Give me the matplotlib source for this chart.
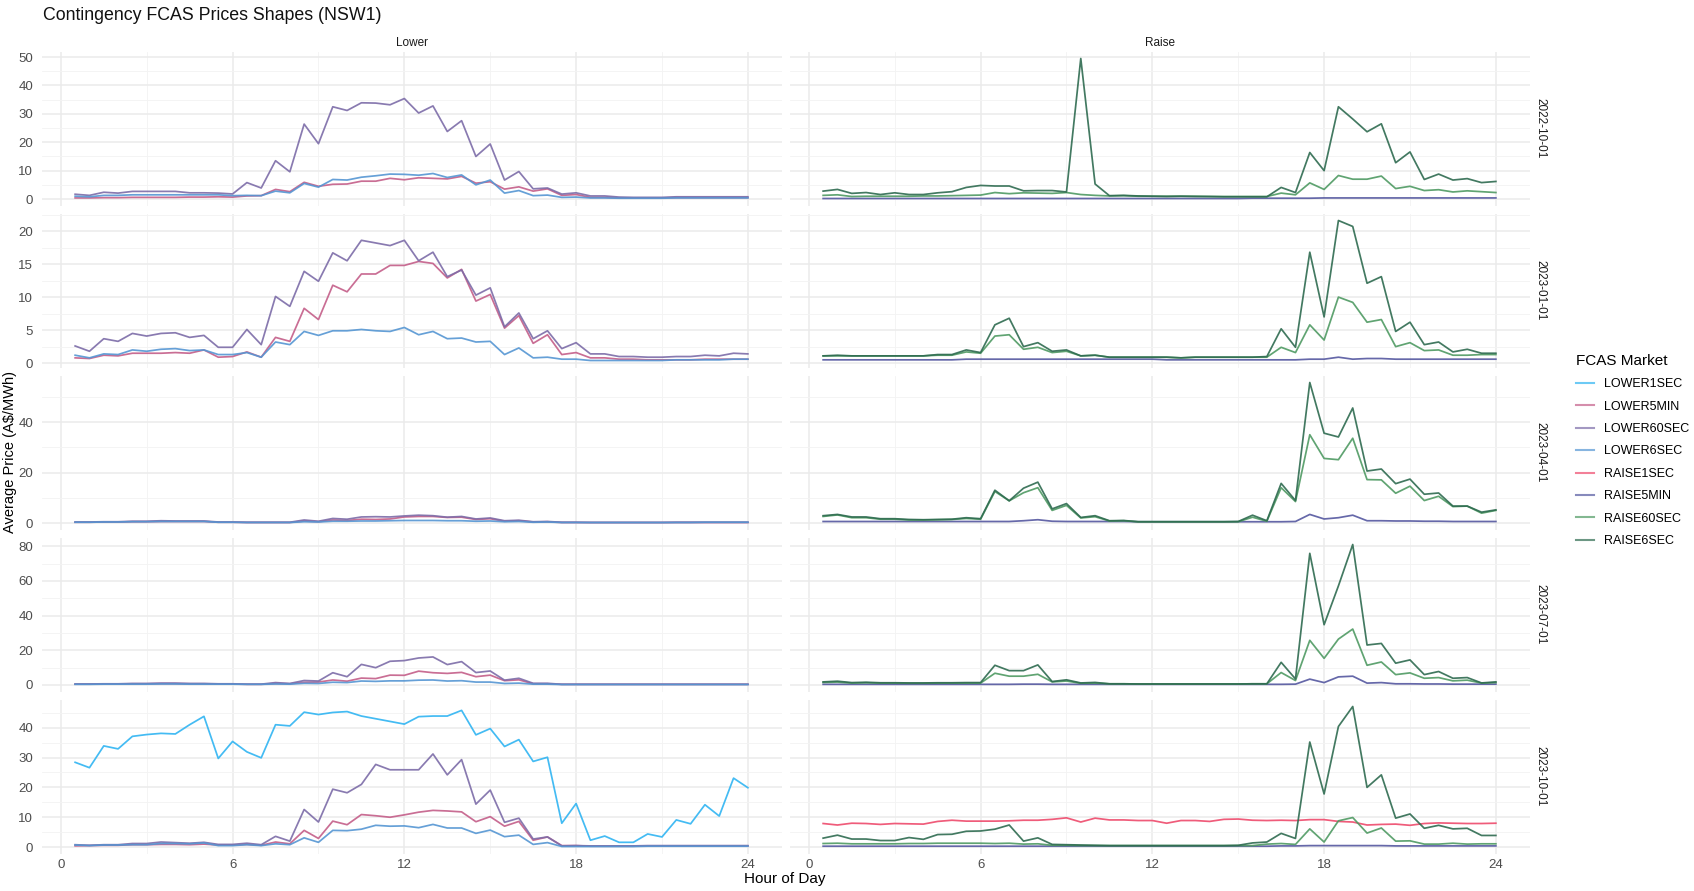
import matplotlib
matplotlib.use("Agg")
import matplotlib.pyplot as plt
from matplotlib.lines import Line2D
from matplotlib.ticker import MultipleLocator

plt.rcParams["font.family"] = ["Liberation Sans", "DejaVu Sans"]

# half-hour periods of the day
hours = [0.5, 1.0, 1.5, 2.0, 2.5, 3.0, 3.5, 4.0, 4.5, 5.0, 5.5, 6.0,
         6.5, 7.0, 7.5, 8.0, 8.5, 9.0, 9.5, 10.0, 10.5, 11.0, 11.5, 12.0,
         12.5, 13.0, 13.5, 14.0, 14.5, 15.0, 15.5, 16.0, 16.5, 17.0, 17.5, 18.0,
         18.5, 19.0, 19.5, 20.0, 20.5, 21.0, 21.5, 22.0, 22.5, 23.0, 23.5, 24.0]

periods = ["2022-10-01", "2023-01-01", "2023-04-01", "2023-07-01", "2023-10-01"]
markets = ["LOWER1SEC", "LOWER5MIN", "LOWER60SEC", "LOWER6SEC",
           "RAISE1SEC", "RAISE5MIN", "RAISE60SEC", "RAISE6SEC"]
colors = {"LOWER1SEC": "#2FB4F2", "LOWER5MIN": "#C45E89", "LOWER60SEC": "#7C6CA8",
          "LOWER6SEC": "#5596D3", "RAISE1SEC": "#EE4A6C", "RAISE5MIN": "#5558A0",
          "RAISE60SEC": "#4F9A63", "RAISE6SEC": "#2E6B50"}

# ---- 2022-10-01
l5_q1 = [0.4,0.4,0.5,0.5,0.6,0.6,0.6,0.6,0.7,0.7,0.8,0.7, 1.1,1.2,3.4,2.6,5.9,4.5,5.2,5.3,6.3,6.3,7.3,6.8,
         7.5,7.3,7.1,8.0,5.6,6.1,3.5,4.3,2.8,3.6,1.3,1.6, 0.6,0.6,0.4,0.4,0.4,0.4,0.5,0.5,0.5,0.5,0.5,0.5]
l60_q1 = [1.7,1.3,2.4,2.1,2.7,2.7,2.7,2.7,2.2,2.2,2.1,1.8, 5.8,3.9,13.5,9.6,26.4,19.5,32.5,31.2,33.9,33.8,33.2,35.4,
          30.3,32.8,23.8,27.6,15.0,19.4,6.7,9.7,3.6,3.9,1.75,2.2, 1.1,1.1,0.7,0.6,0.6,0.6,0.8,0.8,0.8,0.8,0.8,0.8]
l6_q1 = [1.0,0.8,1.3,1.3,1.5,1.5,1.5,1.5,1.5,1.5,1.5,1.2, 1.3,1.2,2.8,2.2,5.5,4.2,6.9,6.7,7.7,8.2,8.8,8.7,
         8.4,9.0,7.6,8.5,5.0,6.7,2.1,3.0,1.2,1.4,0.6,0.7, 0.4,0.4,0.3,0.3,0.3,0.3,0.4,0.4,0.4,0.4,0.4,0.4]
r5_q1 = [0.2,0.2,0.2,0.2,0.2,0.2,0.2,0.2,0.2,0.2,0.2,0.2, 0.2,0.2,0.2,0.2,0.2,0.2,0.2,0.2,0.2,0.2,0.2,0.2,
         0.2,0.2,0.2,0.2,0.2,0.2,0.3,0.3,0.3,0.3,0.3,0.4, 0.4,0.4,0.4,0.4,0.4,0.4,0.4,0.4,0.4,0.4,0.4,0.4]
r60_q1 = [1.3,1.5,0.9,1.0,1.0,1.0,1.0,1.1,1.1,1.2,1.3,1.4, 2.3,1.9,2.2,2.1,2.0,2.3,1.6,1.3,1.1,1.2,1.0,1.0,
          1.0,1.0,1.0,0.9,0.9,0.9,0.9,0.9,2.1,1.5,5.7,3.4, 8.3,7.0,7.0,8.1,3.7,4.5,3.0,3.3,2.5,2.9,2.6,2.3]
r6_q1 = [2.8,3.4,2.0,2.3,1.6,2.2,1.6,1.6,2.2,2.6,4.1,4.8, 4.6,4.6,2.9,3.0,3.0,2.5,49.5,5.3,1.2,1.3,1.1,1.0,
         0.9,1.0,0.9,0.9,0.8,0.8,0.8,0.8,4.1,2.3,16.4,10.0, 32.5,28.2,23.7,26.5,12.8,16.6,6.9,8.8,6.7,7.2,5.8,6.2]

# ---- 2023-01-01
l5_q2 = [0.8,0.7,1.2,1.1,1.5,1.5,1.5,1.6,1.5,2.0,0.9,1.0, 1.7,0.9,3.9,3.3,8.3,6.6,11.8,10.8,13.5,13.5,14.8,14.8,
         15.4,15.1,12.9,14.2,9.4,10.4,5.3,7.2,3.0,4.3,1.3,1.6, 0.8,0.8,0.6,0.6,0.5,0.5,0.5,0.5,0.6,0.6,0.6,0.6]
l60_q2 = [2.6,1.8,3.7,3.3,4.5,4.1,4.5,4.6,3.9,4.2,2.4,2.4, 5.1,2.8,10.1,8.6,13.9,12.4,16.7,15.5,18.6,18.2,17.8,18.6,
          15.5,16.8,13.1,14.1,10.3,11.4,5.5,7.6,3.7,4.9,2.2,3.1, 1.4,1.4,1.0,1.0,0.9,0.9,1.0,1.0,1.2,1.1,1.5,1.4]
l6_q2 = [1.2,0.8,1.4,1.3,2.0,1.8,2.1,2.2,1.9,2.0,1.3,1.3, 1.6,0.9,3.2,2.8,4.8,4.2,4.9,4.9,5.1,4.9,4.8,5.4,
         4.3,4.8,3.7,3.8,3.2,3.3,1.3,2.3,0.8,0.9,0.6,0.6, 0.4,0.4,0.4,0.4,0.4,0.4,0.5,0.5,0.5,0.5,0.6,0.6]
r5_q2 = [0.5,0.5,0.5,0.5,0.5,0.5,0.5,0.5,0.5,0.5,0.6,0.6, 0.6,0.6,0.6,0.6,0.6,0.6,0.6,0.6,0.6,0.6,0.6,0.6,
         0.5,0.5,0.5,0.5,0.5,0.5,0.5,0.5,0.5,0.5,0.6,0.6, 0.9,0.6,0.7,0.7,0.6,0.6,0.6,0.6,0.6,0.6,0.6,0.6]
r60_q2 = [1.1,1.1,1.1,1.1,1.1,1.1,1.1,1.1,1.2,1.2,1.7,1.5, 4.1,4.3,2.1,2.4,1.6,1.8,1.1,1.2,0.9,0.9,0.9,0.9,
          0.9,0.8,0.9,0.9,0.9,0.9,0.9,0.9,2.4,1.6,5.8,3.5, 10.0,9.2,6.2,6.6,2.5,3.1,1.9,2.0,1.2,1.2,1.3,1.3]
r6_q2 = [1.1,1.2,1.1,1.1,1.1,1.1,1.1,1.1,1.3,1.3,2.0,1.6, 5.8,6.8,2.5,3.1,1.8,2.0,1.1,1.2,0.9,0.9,0.9,0.9,
         0.9,0.8,0.9,0.9,0.9,0.9,0.9,1.0,5.2,2.4,16.8,7.0, 21.6,20.7,12.1,13.1,4.8,6.2,2.8,3.2,1.7,2.1,1.5,1.5]

# ---- 2023-04-01
l5_q3 = [0.3,0.3,0.4,0.4,0.5,0.5,0.6,0.6,0.6,0.6,0.3,0.3, 0.2,0.2,0.2,0.2,0.8,0.5,1.2,1.0,1.5,1.4,1.6,2.4,
         2.6,2.6,2.2,2.3,1.4,1.7,0.7,0.9,0.4,0.5,0.2,0.2, 0.2,0.2,0.2,0.2,0.2,0.2,0.2,0.2,0.2,0.2,0.2,0.2]
l60_q3 = [0.4,0.4,0.5,0.5,0.7,0.7,0.9,0.8,0.8,0.8,0.4,0.4, 0.3,0.3,0.3,0.3,1.2,0.7,1.8,1.5,2.4,2.5,2.4,2.8,
          3.1,2.9,2.3,2.6,1.6,2.0,0.9,1.1,0.5,0.6,0.3,0.3, 0.2,0.2,0.2,0.2,0.2,0.2,0.3,0.3,0.3,0.3,0.3,0.3]
l6_q3 = [0.3,0.3,0.4,0.4,0.5,0.5,0.6,0.6,0.6,0.6,0.3,0.3, 0.2,0.2,0.2,0.2,0.5,0.4,0.7,0.7,0.8,0.8,0.9,1.0,
         1.0,1.0,0.9,0.9,0.7,0.8,0.5,0.6,0.3,0.4,0.2,0.2, 0.2,0.2,0.2,0.2,0.2,0.2,0.2,0.2,0.3,0.3,0.3,0.3]
r5_q3 = [0.6,0.6,0.6,0.6,0.6,0.6,0.6,0.6,0.6,0.6,0.6,0.6, 0.6,0.6,0.9,1.3,0.7,0.6,0.6,0.6,0.6,0.6,0.5,0.5,
         0.5,0.5,0.5,0.5,0.5,0.5,0.5,0.5,0.5,0.6,3.4,1.6, 2.1,3.1,0.9,0.9,0.8,0.8,0.7,0.7,0.6,0.6,0.6,0.6]
r60_q3 = [2.6,3.2,2.1,2.1,1.5,1.5,1.2,1.2,1.3,1.4,1.8,1.5, 12.5,8.8,12.0,14.0,5.0,7.0,2.0,2.5,0.8,0.9,0.5,0.5,
          0.5,0.5,0.5,0.5,0.5,0.5,2.3,0.7,14.0,8.5,35.0,25.6, 25.1,33.6,17.2,17.1,11.8,14.6,8.9,10.6,6.5,6.7,3.9,5.0]
r6_q3 = [2.9,3.4,2.4,2.4,1.7,1.7,1.4,1.3,1.4,1.5,2.1,1.7, 13.0,8.8,13.8,16.2,5.6,7.7,2.2,2.9,0.9,1.0,0.5,0.5,
         0.5,0.5,0.5,0.5,0.5,0.6,3.1,0.9,15.7,8.9,55.7,35.6, 34.1,45.6,20.6,21.4,15.6,17.4,11.4,11.9,6.7,6.7,4.3,5.2]

# ---- 2023-07-01
l5_q4 = [0.4,0.4,0.5,0.5,0.6,0.6,0.7,0.7,0.6,0.6,0.5,0.5, 0.3,0.3,0.8,0.6,1.5,1.6,2.8,2.1,3.9,3.6,5.6,5.5,
         7.9,7.0,6.6,7.2,4.7,5.6,2.4,2.9,0.6,0.6,0.3,0.3, 0.3,0.3,0.3,0.3,0.3,0.3,0.3,0.3,0.3,0.3,0.3,0.3]
l60_q4 = [0.5,0.5,0.6,0.6,0.8,0.8,1.0,1.0,0.8,0.8,0.6,0.6, 0.4,0.4,1.3,0.8,2.5,2.2,7.0,4.7,11.8,9.9,13.6,14.0,
          15.5,16.1,11.7,13.4,7.1,8.0,2.7,3.8,0.9,0.9,0.3,0.3, 0.3,0.3,0.3,0.3,0.3,0.3,0.3,0.3,0.3,0.3,0.3,0.3]
l6_q4 = [0.3,0.3,0.4,0.4,0.4,0.4,0.5,0.5,0.4,0.4,0.4,0.4, 0.3,0.3,0.5,0.4,0.9,0.8,1.5,1.3,2.2,2.0,2.3,2.3,
         2.7,2.8,2.2,2.4,1.6,1.6,0.8,1.0,0.4,0.4,0.2,0.2, 0.2,0.2,0.2,0.2,0.2,0.2,0.2,0.2,0.2,0.2,0.2,0.2]
r5_q4 = [0.3,0.3,0.3,0.3,0.3,0.3,0.3,0.3,0.3,0.3,0.3,0.3, 0.3,0.3,0.4,0.4,0.3,0.3,0.3,0.3,0.3,0.3,0.3,0.3,
         0.3,0.3,0.3,0.3,0.3,0.3,0.3,0.3,0.3,0.4,3.3,1.3, 4.6,5.0,1.0,1.3,0.6,0.6,0.5,0.5,0.4,0.4,0.4,0.4]
r60_q4 = [1.4,1.6,1.0,1.2,1.0,1.0,0.9,0.9,1.0,1.0,1.0,1.0, 6.7,5.0,5.0,6.1,1.7,2.2,0.9,1.0,0.6,0.6,0.5,0.5,
          0.5,0.5,0.5,0.5,0.5,0.5,0.6,0.6,7.1,2.5,25.7,15.3, 26.4,32.2,11.3,13.2,5.9,6.9,3.8,4.2,2.3,2.7,1.0,1.3]
r6_q4 = [1.7,2.1,1.3,1.5,1.2,1.2,1.1,1.1,1.2,1.2,1.3,1.3, 11.3,8.2,8.2,11.5,1.9,2.9,1.1,1.4,0.6,0.6,0.5,0.5,
         0.5,0.5,0.5,0.5,0.5,0.5,0.6,0.6,13.0,3.4,75.9,34.7, 57.1,81.0,23.0,23.9,12.5,14.4,5.9,7.7,3.8,4.2,1.1,1.7]

# ---- 2023-10-01
l1_q5 = [28.4,26.6,33.9,32.9,37.1,37.7,38.1,37.9,41.0,43.8,29.7,35.4, 31.9,29.9,41.0,40.6,45.2,44.4,45.1,45.4,43.9,43.0,42.1,41.2,
         43.7,43.9,43.9,45.8,37.6,39.7,33.7,36.0,28.7,30.1,8.0,14.6, 2.3,3.7,1.6,1.6,4.4,3.4,9.1,7.8,14.2,10.4,23.1,19.9]
l5_q5 = [0.4,0.5,0.6,0.6,0.8,0.8,0.9,0.9,0.8,1.0,0.7,0.7, 0.9,0.6,1.7,1.1,5.6,2.9,8.7,7.5,10.9,10.5,10.0,10.8,
         11.7,12.3,12.1,11.8,8.5,10.2,7.0,8.6,2.3,3.4,0.5,0.5, 0.3,0.3,0.3,0.3,0.4,0.4,0.4,0.4,0.4,0.4,0.4,0.4]
l60_q5 = [0.8,0.6,0.8,0.8,1.2,1.2,1.7,1.5,1.3,1.6,0.9,0.9, 1.3,0.8,3.6,2.0,12.6,8.4,19.4,18.2,21.0,27.7,25.9,25.9,
          25.9,31.2,24.2,29.3,14.4,19.1,8.3,9.7,2.7,3.4,0.4,0.5, 0.4,0.4,0.4,0.4,0.5,0.5,0.5,0.5,0.5,0.5,0.5,0.5]
l6_q5 = [0.7,0.5,0.7,0.7,0.8,0.8,1.2,1.2,1.1,1.4,0.5,0.5, 0.8,0.5,1.1,0.8,3.1,1.6,5.6,5.5,6.0,7.3,7.0,7.1,
         6.5,7.6,6.4,6.4,4.6,5.7,3.5,4.0,0.9,1.5,0.2,0.2, 0.2,0.2,0.2,0.2,0.3,0.3,0.3,0.3,0.3,0.3,0.3,0.3]
r1_q5 = [7.9,7.4,8.0,7.9,7.6,7.9,7.8,7.7,8.6,9.0,8.7,8.7, 8.7,8.8,9.0,9.0,9.3,9.8,8.4,9.7,9.1,9.1,8.9,8.9,
         8.0,8.9,8.9,8.6,9.3,9.4,9.0,8.9,9.0,8.9,9.2,9.2, 8.6,8.4,7.4,7.6,7.7,7.3,7.9,8.1,8.0,7.9,7.9,8.0]
r5_q5 = [0.3,0.3,0.3,0.3,0.3,0.3,0.3,0.3,0.3,0.3,0.3,0.3, 0.3,0.3,0.3,0.3,0.3,0.3,0.3,0.3,0.3,0.3,0.3,0.3,
         0.3,0.3,0.3,0.3,0.3,0.3,0.3,0.3,0.4,0.4,0.5,0.5, 0.5,0.5,0.5,0.5,0.4,0.4,0.4,0.4,0.4,0.4,0.4,0.4]
r60_q5 = [1.2,1.3,1.1,1.1,1.1,1.1,1.2,1.2,1.3,1.3,1.3,1.3, 1.2,1.3,1.0,1.1,0.6,0.6,0.5,0.5,0.5,0.5,0.5,0.5,
          0.5,0.5,0.5,0.5,0.5,0.5,0.5,1.0,1.2,0.9,6.1,1.7, 8.8,9.9,4.7,6.4,2.0,2.1,1.0,1.0,1.3,1.0,1.1,1.1]
r6_q5 = [3.0,4.0,2.7,2.7,2.2,2.2,3.2,2.6,4.2,4.3,5.3,5.4, 6.0,7.4,2.0,3.1,0.9,0.8,0.7,0.6,0.5,0.5,0.5,0.5,
         0.5,0.5,0.5,0.5,0.5,0.6,1.4,1.7,4.6,2.9,35.2,17.8, 40.4,47.1,20.0,24.2,9.7,11.1,6.3,7.3,6.1,6.3,3.9,3.9]

lower_data = [
    {"LOWER5MIN": l5_q1, "LOWER60SEC": l60_q1, "LOWER6SEC": l6_q1},
    {"LOWER5MIN": l5_q2, "LOWER60SEC": l60_q2, "LOWER6SEC": l6_q2},
    {"LOWER5MIN": l5_q3, "LOWER60SEC": l60_q3, "LOWER6SEC": l6_q3},
    {"LOWER5MIN": l5_q4, "LOWER60SEC": l60_q4, "LOWER6SEC": l6_q4},
    {"LOWER1SEC": l1_q5, "LOWER5MIN": l5_q5, "LOWER60SEC": l60_q5, "LOWER6SEC": l6_q5},
]
raise_data = [
    {"RAISE5MIN": r5_q1, "RAISE60SEC": r60_q1, "RAISE6SEC": r6_q1},
    {"RAISE5MIN": r5_q2, "RAISE60SEC": r60_q2, "RAISE6SEC": r6_q2},
    {"RAISE5MIN": r5_q3, "RAISE60SEC": r60_q3, "RAISE6SEC": r6_q3},
    {"RAISE5MIN": r5_q4, "RAISE60SEC": r60_q4, "RAISE6SEC": r6_q4},
    {"RAISE1SEC": r1_q5, "RAISE5MIN": r5_q5, "RAISE60SEC": r60_q5, "RAISE6SEC": r6_q5},
]
y_steps = [10, 5, 20, 20, 10]

W, H = 1694, 891
fig = plt.figure(figsize=(W / 100, H / 100), dpi=100)
tick_col = "#4D4D4D"

for r, period in enumerate(periods):
    top = 51.5 + r * 162
    row_vals = [v for d in (lower_data[r], raise_data[r]) for s in d.values() for v in s]
    lo, hi = min(row_vals), max(row_vals)
    pad = (hi - lo) * 0.05
    for c, panel in enumerate([lower_data[r], raise_data[r]]):
        left = 41.5 + c * 748
        ax = fig.add_axes([left / W, 1 - (top + 154) / H, 740 / W, 154 / H])
        for m in markets:
            if m in panel:
                ax.plot(hours, panel[m], color=colors[m], lw=1.25, alpha=0.9)
        ax.set_xlim(-0.675, 25.175)
        ax.set_ylim(lo - pad, hi + pad)
        ax.xaxis.set_major_locator(MultipleLocator(6))
        ax.xaxis.set_minor_locator(MultipleLocator(3))
        ax.yaxis.set_major_locator(MultipleLocator(y_steps[r]))
        ax.yaxis.set_minor_locator(MultipleLocator(y_steps[r] / 2))
        ax.set_axisbelow(True)
        ax.grid(which="major", color="#EBEBEB", lw=1.1)
        ax.grid(which="minor", color="#F3F3F3", lw=0.6)
        for sp in ax.spines.values():
            sp.set_visible(False)
        ax.tick_params(which="both", length=0, labelsize=9.5, labelcolor=tick_col)
        ax.tick_params(axis="y", pad=6)
        ax.tick_params(axis="x", pad=4)
        if c == 1:
            ax.set_yticklabels([])
            ax.text(1.006, 0.5, period, transform=ax.transAxes, rotation=-90,
                    ha="left", va="center", fontsize=8.5, color="#1A1A1A")
        if r < 4:
            ax.set_xticklabels([])
        if r == 0:
            ax.set_title("Lower" if c == 0 else "Raise", fontsize=8.5, color="#1A1A1A", pad=4)

fig.text(43 / W, 1 - 7 / H, "Contingency FCAS Prices Shapes (NSW1)", fontsize=12.8,
         ha="left", va="top", color="#111111")
fig.text(10 / W, 1 - 452 / H, "Average Price (A$/MWh)", rotation=90, fontsize=10.5,
         ha="center", va="center")
fig.text(785 / W, 1 - 879 / H, "Hour of Day", fontsize=11, ha="center", va="center")

handles = [Line2D([], [], color=colors[m], lw=1.5, alpha=0.7) for m in markets]
fig.legend(handles, markets, title="FCAS Market", loc="upper left",
           bbox_to_anchor=(1571 / W, 1 - 349 / H), frameon=False, fontsize=9,
           title_fontsize=11, handlelength=1.45, handletextpad=0.8, labelspacing=0.83,
           alignment="left", borderaxespad=0)

fig.savefig("out.png", dpi=100, facecolor="white")
